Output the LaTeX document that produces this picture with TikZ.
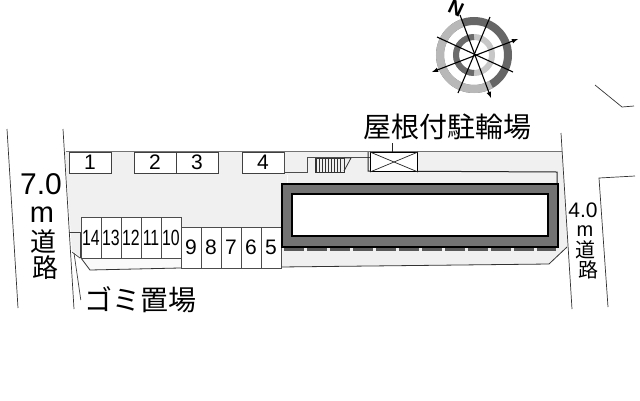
\documentclass[tikz,border=0pt]{standalone}
\usepackage{fontspec}
\setmainfont{Noto Sans CJK JP}
\setsansfont{Liberation Sans}
\usetikzlibrary{arrows,positioning}
\definecolor{ground}{gray}{0.94}
\definecolor{wall}{gray}{0.45}
\newcommand{\thinnum}[1]{\scalebox{0.72}[1]{\fontsize{22}{22}\selectfont #1}}
\tikzset{
  stall/.style={draw=black!75,fill=white,line width=0.8pt,minimum width=42pt,minimum height=21pt,
    inner sep=0pt,outer sep=0pt,font=\sffamily\fontsize{21}{21}\selectfont},
  bay/.style={draw=black!70,fill=white,line width=0.7pt,minimum width=20pt,minimum height=41pt,
    inner sep=0pt,outer sep=0pt,font=\sffamily\fontsize{21}{21}\selectfont},
  label/.style={inner sep=0pt,font=\fontsize{28}{28}\selectfont},
  roadbig/.style={inner sep=0pt,font=\fontsize{26}{26}\selectfont},
  roadsmall/.style={inner sep=0pt,font=\fontsize{20}{20}\selectfont},
  roadline/.style={draw=black!80,line width=0.7pt},
}
\begin{document}
\begin{tikzpicture}[x=1pt,y=-1pt,node distance=0pt]
        \useasboundingbox (0,0) rectangle (640,400);

        % ground
        \fill[ground] (65,151) -- (562,151) -- (568,247) -- (549,264) -- (280,267)
              -- (180,268) -- (90,270) -- (81,258) -- (72,250) -- cycle;
        \fill[black!2] (81,258) -- (181,258) -- (181,268) -- (90,270) -- cycle;
        \draw[black!55,line width=0.7pt] (66,151) -- (562,151);
        \draw[black!80,line width=0.8pt] (81,258) -- (90,270) -- (180,268) -- (280,267)
              -- (549,264) -- (567,247);

        % roads
        \draw[roadline] (7,129) -- (18,308);
        \draw[roadline] (63,129) -- (74,309);
        \draw[roadline] (561,133) -- (572,309);
        \draw[roadline] (608,307) -- (599,178) -- (635,176);
        \draw[roadline] (595,85) -- (622,107) -- (634,106);

        % upper stalls
        \node[stall,anchor=north west] (S01) at (69,152) {1};
        \node[stall,anchor=north west] (S02) at (134,152) {2};
        \node[stall] (S03) [right=of S02] {3};
        \node[stall,anchor=north west] (S04) at (242,152) {4};

        % lower bays
        \node[bay,anchor=north west] (S14) at (81,217) {\thinnum{14}};
        \node[bay] (S13) [right=of S14] {\thinnum{13}};
        \node[bay] (S12) [right=of S13] {\thinnum{12}};
        \node[bay] (S11) [right=of S12] {\thinnum{11}};
        \node[bay] (S10) [right=of S11] {\thinnum{10}};
        \node[bay,anchor=north west] (S09) at (181,227) {9};
        \node[bay] (S08) [right=of S09] {8};
        \node[bay] (S07) [right=of S08] {7};
        \node[bay] (S06) [right=of S07] {6};
        \node[bay] (S05) [right=of S06] {5};

        % building
        \draw[black,line width=1.2pt,fill=wall] (282,184) rectangle (558,247);
        \draw[black,line width=1.2pt,fill=white] (292,194) rectangle (548,236);
        \draw[black!65,line width=3pt,dash pattern=on 20pt off 3pt] (284,249) -- (556,249);

        % walls round the stairs and the bicycle roof
        \draw[black!70,line width=0.8pt] (284,152) -- (284,172) -- (307,172) -- (307,157) -- (370,157);
        \draw[black!85,line width=1pt] (368,152) -- (368,171) -- (557,172) -- (557,183);
        \draw[white,line width=1pt] (287,175) -- (287,183);

        % stairs
        \draw[black!80,line width=0.7pt] (315,158) rectangle (344,172);
        \foreach \i in {0,...,8}
          \draw[black!80,line width=0.8pt] ({316+3*\i},158) -- ({316+3*\i},172);
        \draw[black!80,line width=0.8pt] (344,158) -- (351,158) -- (344,171);

        % bicycle roof
        \node[draw=black,fill=white,line width=1pt,anchor=north west,minimum width=47pt,
              minimum height=19pt,inner sep=0pt] (BIKE) at (370,152) {};
        \draw[black!85,line width=0.7pt] (BIKE.north west) -- (BIKE.south east);
        \draw[black!85,line width=0.7pt] (BIKE.south west) -- (BIKE.north east);

        % labels
        \node[label] (ROOF) at (447,127) {屋根付駐輪場};
        \coordinate (ROOFTAIL) at (392,143);
        \draw[black!85,line width=0.7pt] (ROOFTAIL) -- (ROOFTAIL |- BIKE.north);
        \node[label] (TRASH) at (140,300) {ゴミ置場};

        \node[roadbig,font=\sffamily\fontsize{30}{30}\selectfont] (W70) at (41,184) {7.0};
        \node[roadbig,font=\sffamily\fontsize{29}{29}\selectfont] (WM)  at (42,215) {m};
        \node[roadbig] (WDO) at (43,242) {道};
        \node[roadbig] (WRO) at (45,268) {路};

        \node[roadsmall,font=\sffamily\fontsize{21}{21}\selectfont] (E40) at (583,210) {4.0};
        \node[roadsmall,font=\sffamily\fontsize{20}{20}\selectfont] (EM)  at (585,231) {m};
        \node[roadsmall] (EDO) at (585,250) {道};
        \node[roadsmall] (ERO) at (588,270) {路};

        % trash corner
        \coordinate (T1) at (69,232);
        \coordinate (T2) at (80,232);
        \coordinate (T3) at (80,258);
        \coordinate (T4) at (72,252);
        \coordinate (T6) at (74,253);
        \draw[black!75,line width=0.7pt] (T1) -- (T2) -- (T3);
        \draw[black!75,line width=0.7pt] (T4) -- (T3);
        \draw[black!75,line width=0.7pt] (T6) -- ([xshift=-3pt]TRASH.west);

        % compass
        \coordinate (C0) at (474,55);
        \draw[black!60,line width=8pt] (C0) circle (34);
        \draw[black!28,line width=8pt] (C0) ++(60:34) arc (60:250:34);
        \draw[black!22,line width=6pt] (C0) circle (18);
        \draw[black!58,line width=6pt] (C0) ++(-90:18) arc (-90:-270:18);
        \draw[black,line width=1.1pt,<->,>=latex] (432,72) -- (518,39);
        \draw[black,line width=1.1pt] (437,37) -- (513,72);
        \draw[black,line width=1.1pt] (490,17) -- (458,93);
        \draw[black,line width=1.1pt,->,>=latex] (460,15) -- (491,98);
        \node[inner sep=0pt,rotate=-25,font=\sffamily\bfseries\fontsize{20}{20}\selectfont] (NORTH) at (456,8) {N};
\end{tikzpicture}
\end{document}
